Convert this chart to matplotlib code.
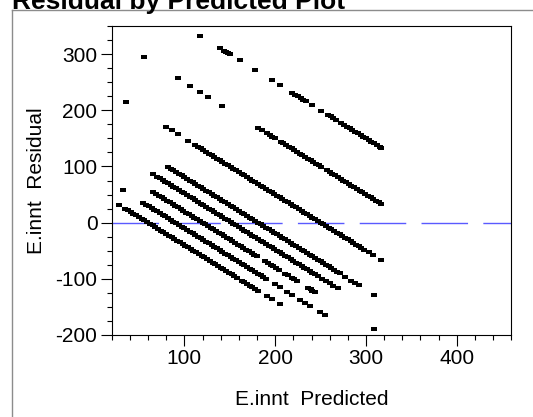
import matplotlib
matplotlib.use("Agg")
import matplotlib.pyplot as plt
from matplotlib.lines import Line2D
import numpy as np

plt.rcParams['font.family'] = ['Liberation Sans', 'DejaVu Sans']
plt.rcParams['lines.scale_dashes'] = False

# Actual values (one per diagonal band) and the predicted values of the points on each band
actual_levels = [60, 90, 120, 152, 181, 250, 350, 450]

pred_60 = [28, 35, 38, 41, 44, 47, 50, 53, 56, 59, 62, 65, 68, 71, 74, 77, 80, 83, 86, 89, 92, 95,
           98, 101, 104, 107, 110, 113, 116, 119, 122, 125, 128, 131, 134, 137, 140, 143, 146, 149,
           152, 155, 158, 163, 166, 169, 172, 175, 178, 181, 191, 196, 205]
pred_90 = [32, 55, 58, 61, 64, 67, 70, 73, 76, 79, 82, 85, 88, 91, 94, 97, 100, 103, 106, 109, 112,
           115, 118, 121, 124, 127, 130, 133, 136, 139, 142, 145, 148, 151, 154, 157, 160, 163, 166,
           169, 172, 175, 178, 181, 184, 187, 190, 200, 205, 213, 218, 227, 233, 238, 249, 255]
pred_120 = [66, 69, 72, 75, 78, 81, 84, 87, 90, 93, 96, 99, 102, 105, 108, 111, 114, 117, 120, 123,
            126, 129, 132, 135, 138, 141, 144, 147, 150, 153, 156, 159, 162, 165, 168, 171, 174, 177,
            180, 189, 192, 195, 198, 201, 204, 211, 214, 218, 221, 224, 236, 239, 241, 244, 309]
pred_152 = [65, 70, 73, 76, 79, 82, 85, 88, 91, 94, 97, 100, 103, 106, 109, 112, 115, 118, 121, 124,
            127, 130, 133, 136, 139, 142, 145, 148, 151, 154, 157, 160, 163, 166, 169, 172, 175, 178,
            181, 184, 187, 190, 193, 196, 199, 202, 205, 208, 211, 214, 217, 220, 223, 226, 229, 232,
            235, 238, 241, 244, 247, 252, 256, 260, 264, 269]
pred_181 = [82, 85, 88, 91, 94, 97, 100, 103, 106, 109, 112, 115, 118, 121, 124, 127, 130, 133, 136,
            139, 142, 145, 148, 151, 154, 157, 160, 163, 166, 169, 172, 175, 178, 181, 184, 187, 190,
            193, 196, 199, 202, 205, 208, 211, 214, 217, 220, 223, 226, 229, 232, 235, 238, 241, 244,
            247, 250, 253, 256, 259, 262, 265, 268, 271, 277, 284, 288, 292, 309]
pred_250 = [36, 80, 86, 93, 104, 112, 115, 118, 121, 124, 127, 130, 133, 136, 139, 142, 145, 148, 151,
            154, 157, 160, 163, 166, 169, 172, 175, 178, 181, 184, 187, 190, 193, 196, 199, 202, 205,
            208, 211, 214, 217, 220, 223, 226, 229, 232, 235, 238, 241, 244, 247, 250, 253, 256, 259,
            262, 265, 268, 271, 274, 277, 280, 283, 286, 289, 292, 295, 298, 303, 308, 317]
pred_350 = [56, 93, 106, 117, 126, 142, 181, 186, 191, 194, 197, 200, 206, 209, 212, 215, 218, 221,
            224, 227, 230, 233, 236, 239, 242, 245, 248, 251, 257, 260, 263, 266, 269, 272, 275, 278,
            281, 284, 287, 290, 293, 296, 299, 302, 305, 308, 311, 314, 317]
pred_450 = [117, 139, 144, 146, 148, 150, 161, 178, 196, 205, 219, 222, 225, 228, 231, 234, 240, 251,
            258, 261, 264, 267, 273, 276, 279, 282, 285, 288, 291, 294, 297, 300, 303, 306, 309, 312,
            315, 317]

predicted_sets = [pred_60, pred_90, pred_120, pred_152, pred_181, pred_250, pred_350, pred_450]

x_major = [100, 200, 300, 400]
y_major = [-200, -100, 0, 100, 200, 300]

W, H = 533, 417
fig = plt.figure(figsize=(W / 100, H / 100), dpi=100)
L, R, T, B = 111.7, 511.3, 26.0, 335.0
ax = fig.add_axes([L / W, 1 - B / H, (R - L) / W, (B - T) / H])

rect = [(-1, -0.62), (1, -0.62), (1, 0.62), (-1, 0.62), (-1, -0.62)]
for act, preds in zip(actual_levels, predicted_sets):
    p = np.array(preds, dtype=float)
    resid = act - p
    ax.plot(p, resid, linestyle='none', marker=rect, markersize=4.1,
            markerfacecolor='black', markeredgewidth=0, zorder=3)

ax.axhline(0, color='#5a5aff', lw=1.0, linestyle=(0, (33.5, 11)), zorder=2)

ax.set_xlim(20, 460)
ax.set_ylim(-200, 350)
ax.set_xticks(x_major)
ax.set_xticks(np.arange(20, 461, 20), minor=True)
ax.set_yticks(y_major)
ax.set_yticks(np.arange(-200, 351, 25), minor=True)
ax.set_xticklabels([str(v) for v in x_major])
ax.set_yticklabels([str(v) for v in y_major])

for s in ax.spines.values():
    s.set_linewidth(0.8)
    s.set_color('black')
ax.tick_params(which='major', direction='out', length=7.8, width=0.8, labelsize=15, pad=2.5)
ax.tick_params(which='minor', direction='out', length=3.8, width=0.8)
ax.tick_params(top=False, right=False, which='both')

# outer panel frame
fig.add_artist(Line2D([12 / W, 1], [1 - 10 / H, 1 - 10 / H], transform=fig.transFigure,
                      color='#8c8c8c', lw=1))
fig.add_artist(Line2D([12 / W, 12 / W], [0, 1 - 10 / H], transform=fig.transFigure,
                      color='#8c8c8c', lw=1))

fig.text(12 / W, 1 - 9.5 / H, 'Residual by Predicted Plot', fontsize=19, fontweight='bold',
         ha='left', va='baseline')
fig.text(36.5 / W, 1 - 180.5 / H, 'E.innt  Residual', rotation=90, ha='center', va='center',
         fontsize=15)
fig.text(311.5 / W, 1 - 405 / H, 'E.innt  Predicted', ha='center', va='baseline', fontsize=15)

fig.savefig('out.png', dpi=100)
